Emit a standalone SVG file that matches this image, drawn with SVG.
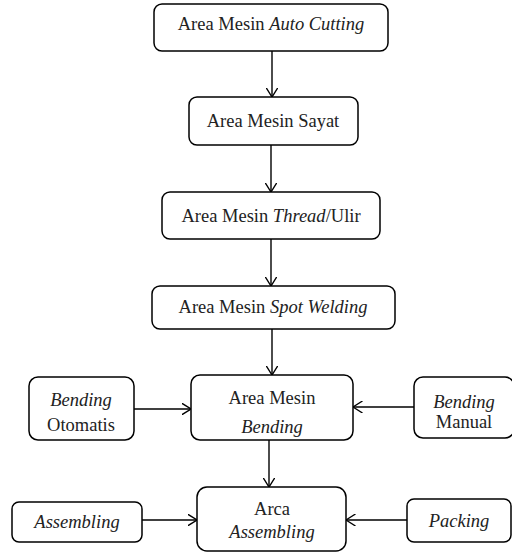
<svg xmlns="http://www.w3.org/2000/svg" width="512" height="553" viewBox="0 0 512 553">
<style>
.box{fill:#fff;stroke:#000;stroke-width:1.5}
text{font-size:18.5px;fill:#222;text-anchor:middle}
.i{font-style:italic}
.c{stroke:#000;stroke-width:1.4;fill:none;marker-end:url(#ah)}
</style>
<defs>
<marker id="ah" viewBox="0 0 10 12" refX="9.5" refY="6" markerWidth="10" markerHeight="12" markerUnits="userSpaceOnUse" orient="auto">
<path d="M0,0 L9.5,6 L0,12" fill="none" stroke="#000" stroke-width="1.4"/>
</marker>
</defs>
<g id="connectors">
<line class="c" x1="272" y1="51" x2="272" y2="97"/>
<line class="c" x1="271" y1="145" x2="271" y2="192"/>
<line class="c" x1="271" y1="239" x2="271" y2="286"/>
<line class="c" x1="272" y1="329" x2="272" y2="375"/>
<line class="c" x1="134" y1="409" x2="191" y2="409"/>
<line class="c" x1="414" y1="407" x2="353" y2="407"/>
<line class="c" x1="269" y1="440" x2="269" y2="487"/>
<line class="c" x1="142" y1="520" x2="197" y2="520"/>
<line class="c" x1="407" y1="520" x2="346" y2="520"/>
</g>
<g font-family="Liberation Serif, Times New Roman, Tinos, DejaVu Serif, serif">
<g id="auto-cutting">
<rect class="box" x="154" y="4" width="234" height="47" rx="8"/>
<text x="271" y="30">Area Mesin <tspan class="i">Auto Cutting</tspan></text>
</g>
<g id="sayat">
<rect class="box" x="189" y="97" width="169" height="48" rx="8"/>
<text x="273" y="127">Area Mesin Sayat</text>
</g>
<g id="thread">
<rect class="box" x="162" y="192" width="218" height="47" rx="8"/>
<text x="271" y="221.5">Area Mesin <tspan class="i">Thread</tspan>/Ulir</text>
</g>
<g id="spot-welding">
<rect class="box" x="152" y="286" width="243" height="43" rx="8"/>
<text x="273" y="313">Area Mesin <tspan class="i">Spot Welding</tspan></text>
</g>
<g id="bending">
<rect class="box" x="191" y="375" width="162" height="65" rx="9"/>
<text x="272" y="404">Area Mesin</text>
<text class="i" x="272" y="433">Bending</text>
</g>
<g id="bending-otomatis">
<rect class="box" x="29" y="377" width="105" height="63" rx="9"/>
<text class="i" x="81" y="406">Bending</text>
<text x="81" y="431">Otomatis</text>
</g>
<g id="bending-manual">
<rect class="box" x="414" y="377" width="100" height="61" rx="9"/>
<text class="i" x="464" y="408">Bending</text>
<text x="464" y="428">Manual</text>
</g>
<g id="area-assembling">
<rect class="box" x="197" y="487" width="149" height="64" rx="10"/>
<text x="272" y="515">Arca</text>
<text class="i" x="272" y="538">Assembling</text>
</g>
<g id="assembling">
<rect class="box" x="12" y="502" width="130" height="40" rx="7"/>
<text class="i" x="77" y="528">Assembling</text>
</g>
<g id="packing">
<rect class="box" x="407" y="499" width="104" height="43" rx="7"/>
<text class="i" x="459" y="527">Packing</text>
</g>
</g>
</svg>
